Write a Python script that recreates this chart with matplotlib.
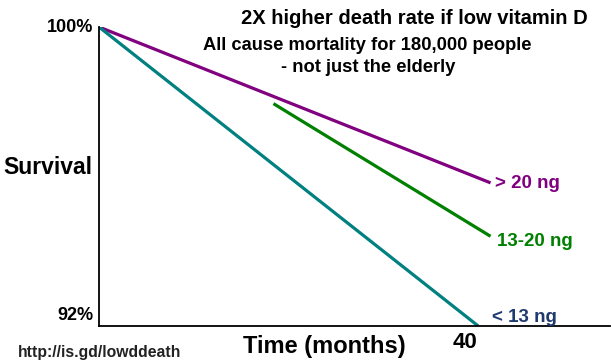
import matplotlib
matplotlib.use("Agg")
import matplotlib.pyplot as plt

plt.rcParams['font.family'] = ['Liberation Sans', 'DejaVu Sans']

# survival curves (months, % surviving)
months_high = [0, 41.3]
surv_high = [100, 95.83]
months_mid = [18.4, 41.3]
surv_mid = [97.95, 94.4]
months_low = [0, 40]
surv_low = [100, 92]

labels = ["> 20 ng", "13-20 ng", "< 13 ng"]

W, H = 611, 364
fig = plt.figure(figsize=(W / 100, H / 100), dpi=100)
ax = fig.add_axes([99 / W, (H - 326) / H, (610 - 99) / W, (326 - 27) / H])

def px(x, y):
    """pixel position -> figure fraction"""
    return x / W, 1 - y / H

ax.plot(months_high, surv_high, color="#800080", lw=2.3, solid_capstyle="butt")
ax.plot(months_mid, surv_mid, color="#008000", lw=2.3, solid_capstyle="butt")
ax.plot(months_low, surv_low, color="#008080", lw=2.3, solid_capstyle="butt")

ax.set_xlim(0, 53.9)
ax.set_ylim(92, 100)
ax.set_xticks([])
ax.set_yticks([])
ax.spines["top"].set_visible(False)
ax.spines["right"].set_visible(False)
ax.spines["left"].set_linewidth(1.3)
ax.spines["bottom"].set_linewidth(1.3)

# curve labels
fig.text(*px(495, 183), labels[0], color="#800080", fontsize=13.5, fontweight="bold", va="center")
fig.text(*px(497, 241), labels[1], color="#008000", fontsize=13.5, fontweight="bold", va="center")
fig.text(*px(492, 318), labels[2], color="#1f3a6e", fontsize=13.5, fontweight="bold", va="center")

# titles
fig.text(*px(414, 18), "2X higher death rate if low vitamin D", fontsize=14.5, fontweight="bold", ha="center", va="center")
fig.text(*px(367, 45), "All cause mortality for 180,000 people", fontsize=13.2, fontweight="bold", ha="center", va="center")
fig.text(*px(368, 67), "- not just the elderly", fontsize=13.2, fontweight="bold", ha="center", va="center")

# axis text
fig.text(*px(93, 27), "100%", fontsize=13, fontweight="bold", ha="right", va="center")
fig.text(*px(93, 315), "92%", fontsize=13, fontweight="bold", ha="right", va="center")
fig.text(*px(48, 168), "Survival", fontsize=16.5, fontweight="bold", ha="center", va="center")
fig.text(*px(465, 343), "40", fontsize=16, fontweight="bold", ha="center", va="center")
fig.text(*px(324, 347), "Time (months)", fontsize=17, fontweight="bold", ha="center", va="center")
fig.text(*px(100, 352), "http://is.gd/lowddeath", fontsize=11.3, fontweight="bold", color="#222222", ha="center", va="center")

fig.savefig("out.png", dpi=100)
